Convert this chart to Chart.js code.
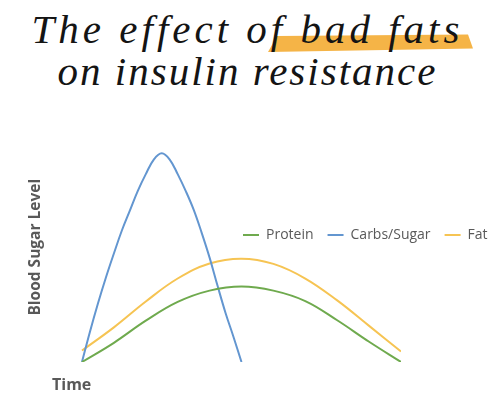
<!DOCTYPE html>
<html>
<head>
<meta charset="utf-8">
<script src="https://cdn.jsdelivr.net/npm/chart.js@4"></script>
<style>
  html, body { margin: 0; padding: 0; background: #fff; }
  body { width: 495px; height: 400px; position: relative; overflow: hidden; }
  .title {
    position: absolute; left: 0; width: 495px; text-align: center;
    font-family: 'Liberation Serif', serif; font-style: italic; font-size: 41px;
    line-height: 41px; color: #141414; white-space: nowrap;
  }
  #line1 { top: 9px; letter-spacing: 4px; }
  #line2 { top: 51px; letter-spacing: 2px; }
  #mark {
    position: absolute; left: 0; top: 0; width: 495px; height: 60px;
    background: #F5B447;
    clip-path: polygon(277px 36px, 468px 34.5px, 473px 48.5px, 268px 52px);
  }
  #wrap { position: absolute; left: 0; top: 100px; width: 495px; height: 300px; }
</style>
</head>
<body>
<div id="mark"></div>
<div class="title" id="line1">The effect of bad fats</div>
<div class="title" id="line2">on insulin resistance</div>
<div id="wrap"><canvas id="chart" width="495" height="300"></canvas></div>
<script>
// values (time on x, blood sugar on y)
const timeSteps = [0, 1, 2, 3, 4, 5, 6, 7, 8, 9, 10];
const carbTimes = [0, 0.25, 0.5, 0.75, 1, 1.25, 1.5, 1.75, 2, 2.25, 2.5,
                   2.75, 3, 3.25, 3.5, 3.75, 4, 4.25, 4.5, 4.75, 5];
const protein = [0, 0.92, 1.98, 2.88, 3.42, 3.62, 3.42, 2.92, 2.0, 0.97, 0];
const carbs = [0, 1.45, 2.8, 4.05, 5.2, 6.3, 7.25, 8.2, 9.0, 9.7, 10,
               9.7, 9.0, 8.2, 7.3, 6.2, 5.0, 3.65, 2.35, 1.2, 0];
const fat = [0.55, 1.66, 2.9, 4.0, 4.72, 4.95, 4.7, 4.0, 2.95, 1.73, 0.5];
const seriesNames = ['Protein', 'Carbs/Sugar', 'Fat'];

const toPoints = (xs, ys) => xs.map((x, i) => ({ x, y: ys[i] }));

Chart.defaults.font.family = "'Open Sans', sans-serif";
Chart.defaults.color = '#595959';

const LEG_LEFT = 229;
const LEG_TOP = 114;

// legend sits inside the plot, so it takes no room in the layout
const legendInPlot = {
  id: 'legendInPlot',
  beforeInit(chart) {
    const lg = chart.legend;
    const fit = lg.fit;
    lg.fit = function () {
      fit.call(this);
      this.fullHeight = this.height;
      this.height = 0;
    };
  },
  afterUpdate(chart) {
    const lg = chart.legend;
    lg.fit();
    lg.left = LEG_LEFT;
    lg.top = LEG_TOP;
    lg.width = 600 - LEG_LEFT;
    lg.height = lg.fullHeight;
    lg.right = 600;
    lg.bottom = LEG_TOP + lg.fullHeight;
    lg.adjustHitBoxes();
  }
};

const line = (label, data, color) => ({
  label,
  data,
  borderColor: color,
  backgroundColor: color,
  borderWidth: 2,
  pointRadius: 0,
  tension: 0.4,
  fill: false
});

new Chart(document.getElementById('chart'), {
  type: 'line',
  data: {
    datasets: [
      line(seriesNames[0], toPoints(timeSteps, protein), '#6FAA4E'),
      line(seriesNames[1], toPoints(carbTimes, carbs), '#6396D0'),
      line(seriesNames[2], toPoints(timeSteps, fat), '#F6C453')
    ]
  },
  options: {
    responsive: false,
    animation: false,
    layout: { padding: { left: 26.2, top: 32.4, right: 94, bottom: 0 } },
    plugins: {
      legend: {
        position: 'top',
        align: 'start',
        labels: {
          usePointStyle: true,
          pointStyle: 'line',
          pointStyleWidth: 16,
          padding: 14,
          color: '#595959',
          font: { size: 14 }
        }
      },
      tooltip: { enabled: false }
    },
    scales: {
      x: {
        type: 'linear',
        min: -0.94,
        max: 10,
        grid: { display: false, drawTicks: false },
        border: { display: false },
        ticks: { display: false },
        title: {
          display: true,
          text: 'Time',
          align: 'start',
          color: '#595959',
          font: { size: 16, weight: 'bold' },
          padding: { top: 13.4, bottom: 5.4 }
        }
      },
      y: {
        min: 0,
        max: 11,
        grid: { display: false, drawTicks: false },
        border: { display: false },
        ticks: { display: false },
        title: {
          display: true,
          text: 'Blood Sugar Level',
          color: '#595959',
          font: { size: 15.5, weight: 'bold' },
          padding: { top: 0, bottom: 7.2 }
        }
      }
    }
  },
  plugins: [legendInPlot]
});
</script>
</body>
</html>
